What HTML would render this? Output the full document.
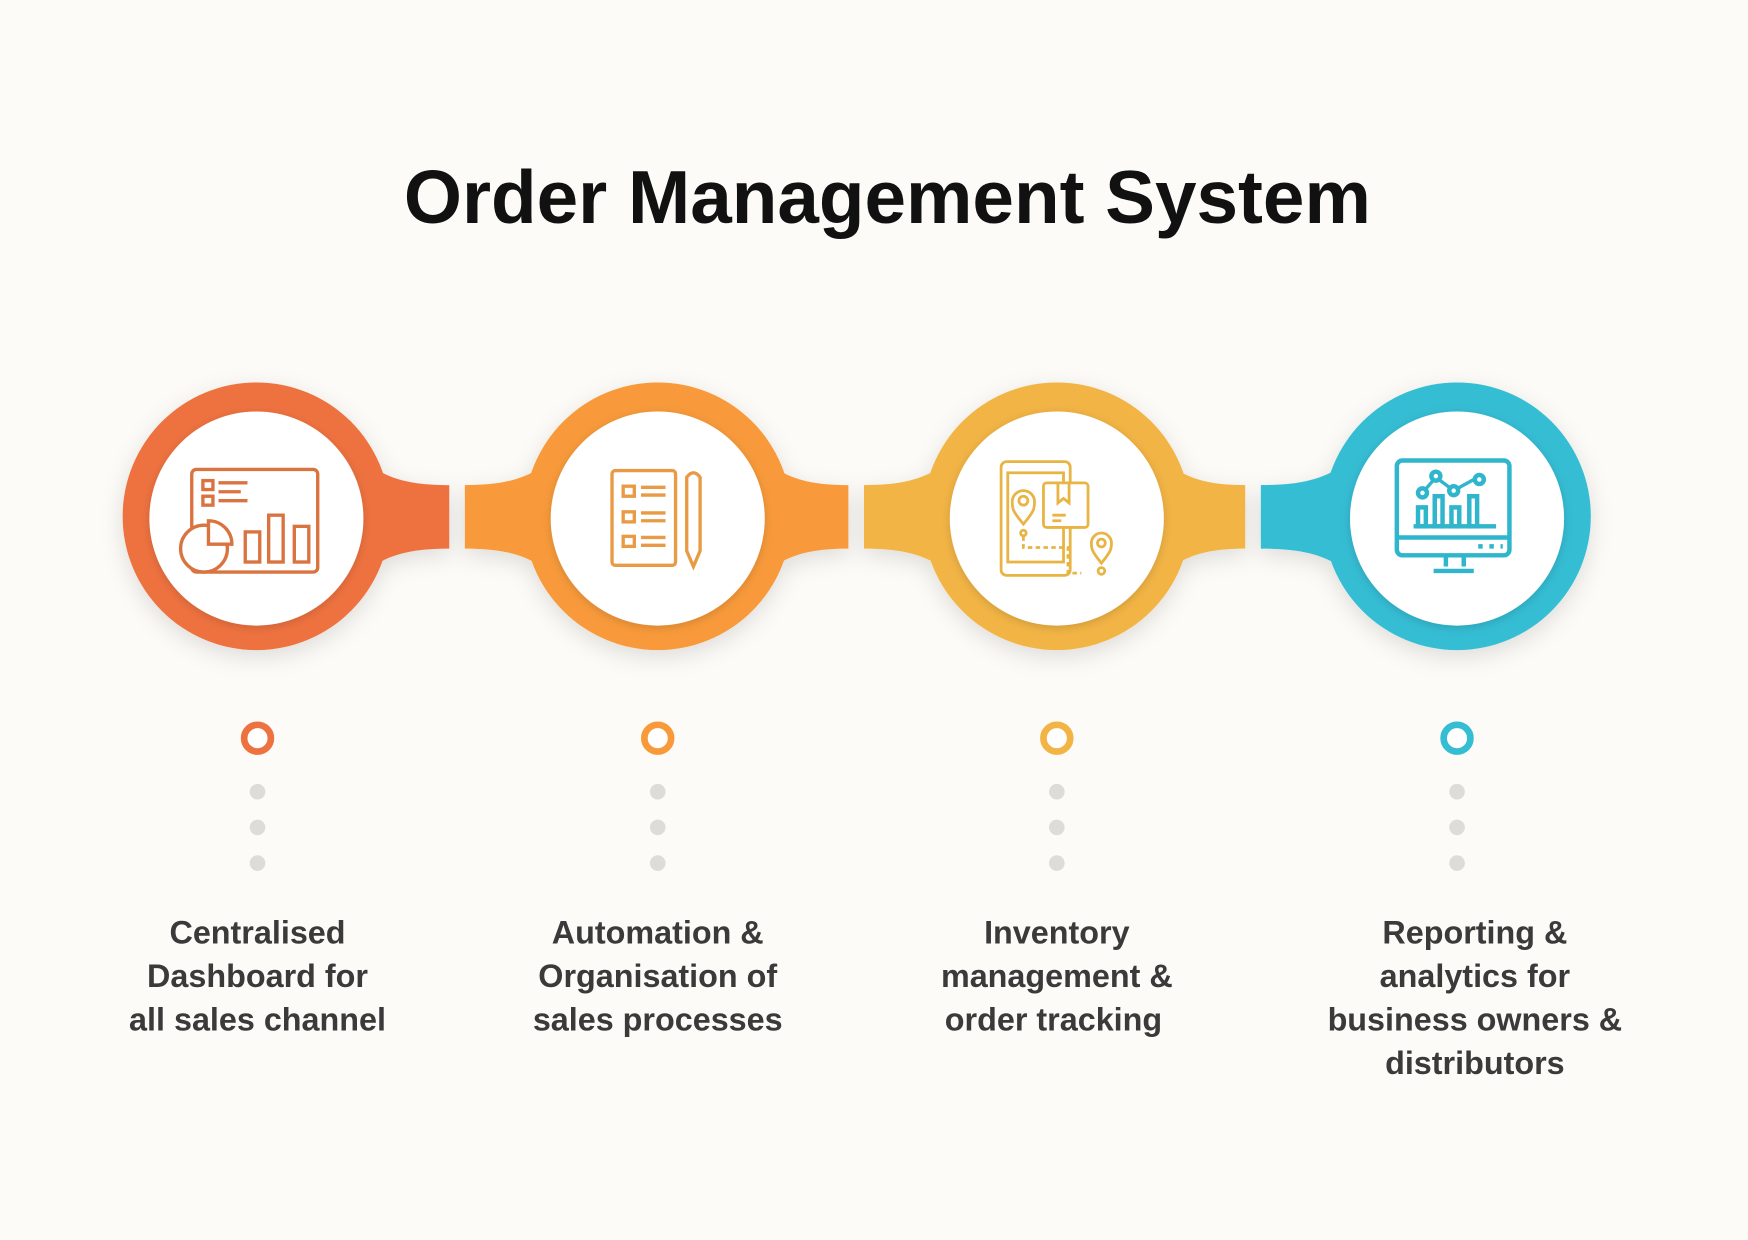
<!DOCTYPE html>
<html><head><meta charset="utf-8"><style>
html,body{margin:0;padding:0;background:#FCFBF7;}
svg{display:block;}
</style></head><body>
<svg width="1748" height="1240" viewBox="0 0 1568 1112" preserveAspectRatio="none" xmlns="http://www.w3.org/2000/svg">
<defs>
<filter id="sh" x="-30%" y="-30%" width="160%" height="160%"><feDropShadow dx="0" dy="6" stdDeviation="10" flood-color="#000" flood-opacity="0.12"/></filter>
<filter id="ish" x="-30%" y="-30%" width="160%" height="160%"><feDropShadow dx="0" dy="2" stdDeviation="4" flood-color="#000" flood-opacity="0.15"/></filter>
</defs>
<rect width="1568" height="1112" fill="#FCFBF7"/>
<text x="796" y="200" text-anchor="middle" font-family="Liberation Sans, sans-serif" font-weight="bold" font-size="67" fill="#111">Order Management System</text>

<g filter="url(#sh)">
<g fill="#EE7240">
<circle cx="230" cy="463" r="120"/>
<path d="M285 356 C320 420 345 435 403 435 L403 492 C345 492 320 507 285 570 Z"/>
</g>
<g fill="#F89A3A">
<circle cx="590" cy="463" r="120"/>
<path d="M535 356 C500 420 475 435 417 435 L417 492 C475 492 500 507 535 570 Z"/>
<path d="M645 356 C680 420 705 435 761 435 L761 492 C705 492 680 507 645 570 Z"/>
</g>
<g fill="#F2B444">
<circle cx="948" cy="463" r="120"/>
<path d="M893 356 C858 420 833 435 775 435 L775 492 C833 492 858 507 893 570 Z"/>
<path d="M1003 356 C1038 420 1063 435 1117 435 L1117 492 C1063 492 1038 507 1003 570 Z"/>
</g>
<g fill="#35BDD4">
<circle cx="1307" cy="463" r="120"/>
<path d="M1252 356 C1217 420 1192 435 1131 435 L1131 492 C1192 492 1217 507 1252 570 Z"/>
</g>
</g>
<g fill="#fff" filter="url(#ish)">
<circle cx="230" cy="465" r="96"/>
<circle cx="590" cy="465" r="96"/>
<circle cx="948" cy="465" r="96"/>
<circle cx="1307" cy="465" r="96"/>
</g>

<g fill="none" stroke="#D9733F" stroke-width="3">
<rect x="172" y="421" width="113" height="92" rx="4"/>
<rect x="182" y="431" width="9" height="8"/><rect x="182" y="445" width="9" height="8"/>
<path d="M196 433h26M196 441h20M196 449h26"/>
<rect x="220" y="477" width="13" height="27"/><rect x="241" y="462" width="13" height="42"/><rect x="264" y="472" width="13" height="32"/>
<circle cx="183" cy="492" r="21" fill="#fff"/>
<path d="M187 467 a21 21 0 0 1 21 21 h-21z" fill="#fff"/>
</g>
<g fill="none" stroke="#E89A45" stroke-width="3">
<rect x="549" y="422" width="57" height="85" rx="3"/>
<rect x="559" y="436" width="10" height="9"/><rect x="559" y="459" width="10" height="9"/><rect x="559" y="481" width="10" height="9"/>
<path d="M575 437h22M575 444h22M575 460h22M575 467h22M575 482h22M575 489h22"/>
<path d="M616 428 q6-8 12 0 v66 l-6 14 l-6-14z"/>
</g>
<g fill="none" stroke="#E8B444" stroke-width="2.5">
<rect x="898" y="414" width="62" height="102" rx="5"/>
<rect x="904" y="424" width="50" height="80"/>
<rect x="936" y="433" width="40" height="40" rx="3" fill="#fff"/>
<path d="M949 433v18l5-4 5 4v-18M944 462h12M944 467h8"/>
<path d="M918 470 c-10-12-10-14-10-20 a10 10 0 0 1 20 0 c0 6 0 8-10 20z"/><circle cx="918" cy="449" r="4"/>
<circle cx="918" cy="478" r="2.5"/>
<path d="M918 481v10h40v23h12" stroke-dasharray="4 3"/>
<path d="M988 505 c-9-11-9-13-9-18 a9 9 0 0 1 18 0 c0 5 0 7-9 18z"/><circle cx="988" cy="487" r="3.5"/>
<circle cx="988" cy="512" r="3"/>
</g>
<g fill="none" stroke="#2FB5CC" stroke-width="4">
<rect x="1253" y="413" width="101" height="85" rx="5"/>
<path d="M1253 482h101"/>
<path d="M1297 498v10M1313 498v10M1286 512h36"/>
<path d="M1268 472h74"/>
<rect x="1272" y="455" width="7" height="17"/><rect x="1287" y="445" width="7" height="27"/><rect x="1302" y="455" width="7" height="17"/><rect x="1318" y="445" width="7" height="27"/>
<path d="M1276 442l12-14 16 12 18-10" stroke-width="3"/>
<circle cx="1276" cy="442" r="4" fill="#fff"/><circle cx="1288" cy="427" r="4" fill="#fff"/><circle cx="1304" cy="440" r="4" fill="#fff"/><circle cx="1327" cy="430" r="4" fill="#fff"/>
<path d="M1326 490h4M1336 490h4M1346 490h2" stroke-width="4"/>
</g>

<g stroke-width="6" fill="#fff">
<circle cx="231" cy="662" r="12" stroke="#EE7240"/>
<circle cx="590" cy="662" r="12" stroke="#F89A3A"/>
<circle cx="948" cy="662" r="12" stroke="#F2B444"/>
<circle cx="1307" cy="662" r="12" stroke="#35BDD4"/>
</g>
<g fill="#DEDCD8">
<circle cx="231" cy="710" r="7"/><circle cx="231" cy="742" r="7"/><circle cx="231" cy="774" r="7"/>
<circle cx="590" cy="710" r="7"/><circle cx="590" cy="742" r="7"/><circle cx="590" cy="774" r="7"/>
<circle cx="948" cy="710" r="7"/><circle cx="948" cy="742" r="7"/><circle cx="948" cy="774" r="7"/>
<circle cx="1307" cy="710" r="7"/><circle cx="1307" cy="742" r="7"/><circle cx="1307" cy="774" r="7"/>
</g>

<g font-family="Liberation Sans, sans-serif" font-weight="bold" font-size="29" fill="#3A3A3A" text-anchor="middle">
<text x="231" y="846">Centralised</text>
<text x="231" y="885">Dashboard for</text>
<text x="231" y="924">all sales channel</text>
<text x="590" y="846">Automation &amp;</text>
<text x="590" y="885">Organisation of</text>
<text x="590" y="924">sales processes</text>
<text x="948" y="846">Inventory</text>
<text x="948" y="885">management &amp;</text>
<text x="945" y="924">order tracking</text>
<text x="1323" y="846">Reporting &amp;</text>
<text x="1323" y="885">analytics for</text>
<text x="1323" y="924">business owners &amp;</text>
<text x="1323" y="963">distributors</text>
</g>
</svg>
</body></html>
